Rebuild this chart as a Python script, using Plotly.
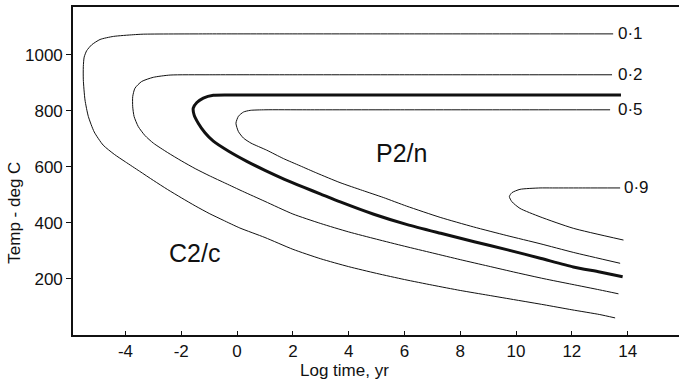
import plotly.graph_objects as go

# Isopleths of ordering fraction: log time (yr) against temperature (deg C)
c01_x = [13.48, 10.0, 6.0, 2.0, -1.0, -3.36, -3.72, -4.43, -4.91, -5.21, -5.39, -5.48, -5.51,
         -5.51, -5.45, -5.33, -5.12, -4.80, -4.40, -4.0, -3.5, -3.0, -2.5, -2.0, -1.5, -1.0,
         -0.5, 0.1, 1.0, 2.0, 3.0, 4.0, 5.0, 6.0, 7.0, 8.0, 9.0, 10.0, 11.0, 12.0, 13.0, 13.55]
c01_y = [1075, 1075, 1075, 1075, 1075, 1074, 1072, 1066, 1055, 1036, 1015, 992, 958,
         911, 839, 780, 725, 678, 645, 618, 585, 552, 520, 490, 461, 434,
         410, 382, 348, 306, 272, 244, 220, 198, 178, 159, 142, 125, 108, 90, 73, 61]

c02_x = [13.44, 10.0, 6.0, 2.0, -1.0, -2.40, -3.0, -3.42, -3.66, -3.74, -3.74, -3.69, -3.54,
         -3.30, -3.0, -2.5, -2.0, -1.5, -1.0, -0.4, 0.2, 1.0, 2.0, 3.0, 4.0, 5.0, 6.0, 7.0,
         8.0, 9.0, 10.0, 11.0, 12.0, 13.0, 13.67]
c02_y = [929, 929, 929, 929, 929, 928, 920, 905, 881, 851, 815, 780, 744,
         712, 685, 652, 622, 594, 569, 541, 513, 477, 432, 398, 368, 342, 317, 293,
         269, 246, 223, 201, 181, 161, 147]

thick_x = [13.76, 10.0, 6.0, 2.0, -0.2, -0.85, -1.21, -1.44, -1.57, -1.54, -1.39, -1.15,
           -0.85, -0.3, 0.35, 1.0, 1.7, 2.4, 3.0, 3.7, 4.9, 6.1, 7.3, 8.5, 9.7, 10.9, 12.05,
           13.0, 13.82]
thick_y = [857, 857, 857, 857, 857, 856, 846, 830, 810, 786, 756, 722,
           692, 656, 620, 588, 556, 527, 503, 475, 431, 394, 363, 333, 304, 273, 243,
           225, 208]

c05_x = [13.37, 10.0, 6.0, 2.5, 1.0, 0.47, 0.23, 0.05, -0.04, 0.05, 0.23, 0.50, 1.06, 1.66,
         2.26, 2.86, 3.69, 4.5, 5.24, 6.08, 7.28, 8.47, 9.67, 10.86, 12.05, 13.73]
c05_y = [804, 804, 804, 804, 804, 802, 796, 781, 756, 726, 703, 685, 660, 630,
         604, 578, 544, 516, 491, 460, 420, 386, 355, 326, 295, 256]

c09_x = [13.73, 12.5, 11.3, 10.86, 10.14, 9.85, 9.76, 9.85, 10.14, 10.86, 12.05, 13.85]
c09_y = [525, 525, 525, 525, 520, 508, 494, 476, 452, 422, 381, 339]

curve_labels = ["0\u00b71", "0\u00b72", "0\u00b75", "0\u00b79"]
label_x = [13.58, 13.58, 13.58, 13.80]
label_y = [1078, 930, 806, 525]

x_ticks = [-4, -2, 0, 2, 4, 6, 8, 10, 12, 14]
x_tick_text = ["-4", "-2", "0", "2", "4", "6", "8", "10", "12", "14"]
y_ticks = [200, 400, 600, 800, 1000]

FONT = "Liberation Sans, Arial, sans-serif"
INK = "#111111"

fig = go.Figure()
for xs, ys, w in [(c01_x, c01_y, 1.0), (c02_x, c02_y, 1.0), (thick_x, thick_y, 3.0),
                  (c05_x, c05_y, 1.0), (c09_x, c09_y, 1.0)]:
    fig.add_trace(go.Scatter(x=xs, y=ys, mode="lines",
                             line=dict(color=INK, width=w, shape="spline", smoothing=0.6),
                             hoverinfo="skip"))

for txt, lx, ly in zip(curve_labels, label_x, label_y):
    fig.add_annotation(x=lx, y=ly, text=txt, showarrow=False, xanchor="left",
                       yanchor="middle", font=dict(family=FONT, size=17, color=INK))

fig.add_annotation(x=5.88, y=650, text="P2/n", showarrow=False,
                   font=dict(family=FONT, size=25, color=INK))
fig.add_annotation(x=-1.54, y=293, text="C2/c", showarrow=False,
                   font=dict(family=FONT, size=25, color=INK))

# axis titles
fig.add_annotation(x=3.84, xref="x", y=-0.107, yref="paper", text="Log time, yr",
                   showarrow=False, yanchor="middle",
                   font=dict(family=FONT, size=17, color=INK))
fig.add_annotation(x=-0.096, xref="paper", y=436, yref="y", text="Temp - deg C",
                   showarrow=False, textangle=-90, xanchor="center",
                   font=dict(family=FONT, size=17, color=INK))

fig.update_xaxes(range=[-5.88, 15.84], tickvals=x_ticks, ticktext=x_tick_text,
                 ticks="inside", ticklen=4, tickwidth=1.3, tickcolor=INK,
                 showline=True, linecolor=INK, linewidth=1.6, mirror=True,
                 showgrid=False, zeroline=False,
                 tickfont=dict(family=FONT, size=17, color=INK))
fig.update_yaxes(range=[0, 1171], tickvals=y_ticks,
                 ticks="outside", ticklen=5, tickwidth=1.3, tickcolor=INK,
                 showline=True, linecolor=INK, linewidth=1.6, mirror=False,
                 showgrid=False, zeroline=False,
                 tickfont=dict(family=FONT, size=17, color=INK))

fig.update_layout(width=679, height=388, margin=dict(l=73, r=0, t=7, b=53),
                  plot_bgcolor="white", paper_bgcolor="white", showlegend=False)

fig.write_html("out.html")
